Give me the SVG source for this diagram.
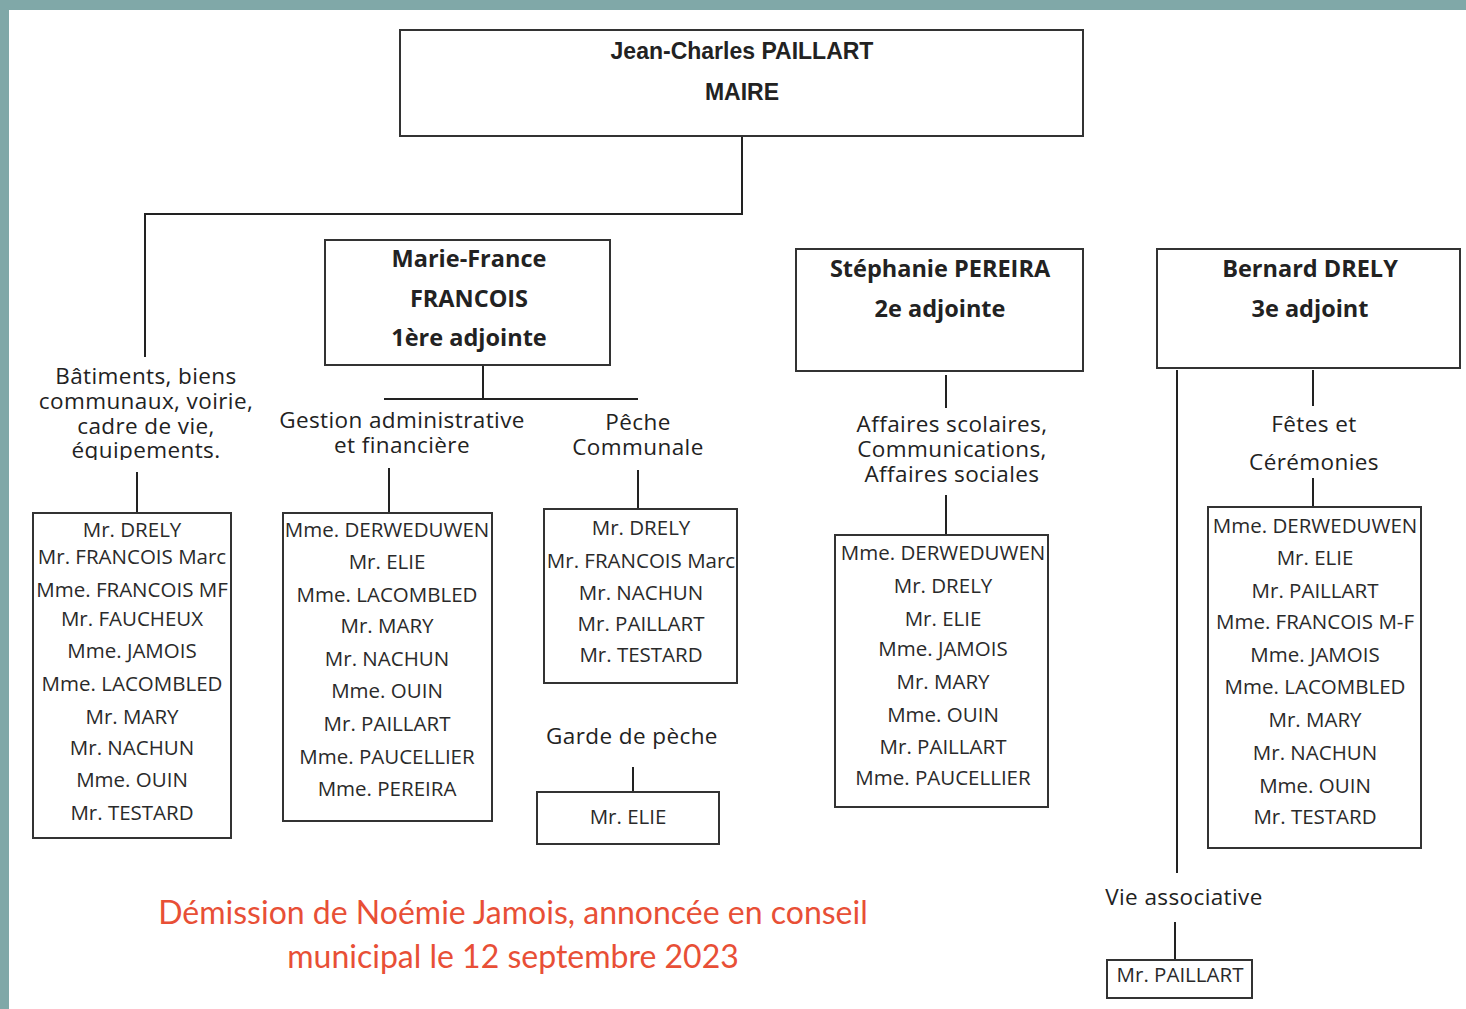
<svg xmlns="http://www.w3.org/2000/svg" width="1466" height="1009" viewBox="0 0 1466 1009">
<style>
.box{fill:#fff;stroke:#333;stroke-width:2}
.ln{stroke:#222;stroke-width:2;fill:none}
.nm{font-family:"Open Sans","Liberation Sans",sans-serif;font-size:20.5px;fill:#2a2a2a;text-anchor:middle}
.hd{font-family:"Open Sans","Liberation Sans",sans-serif;font-size:22.5px;letter-spacing:0.4px;fill:#222;text-anchor:middle}
.ti{font-family:"Open Sans","Liberation Sans",sans-serif;font-size:23.5px;font-weight:bold;fill:#222;text-anchor:middle}
.mt{font-family:"Liberation Sans Narrow","Liberation Sans",sans-serif;font-size:23px;font-weight:bold;fill:#222;text-anchor:middle}
.red{font-family:Lato,"Liberation Sans",sans-serif;font-size:32px;fill:#e84f36;text-anchor:middle}
</style>
<defs>
<clipPath id="clipBat"><rect x="20" y="355" width="260" height="105"/></clipPath>
</defs>
<rect x="0" y="0" width="1466" height="1009" fill="#fff"/>
<rect x="0" y="0" width="1466" height="10" fill="#80a8a8"/>
<rect x="0" y="0" width="9" height="1009" fill="#80a8a8"/>

<g id="connectors">
<path class="ln" d="M742 136V214H145V357"/>
<path class="ln" d="M483 365V399M384 399H638"/>
<path class="ln" d="M389 468V513"/>
<path class="ln" d="M638 470V509"/>
<path class="ln" d="M633 767V792"/>
<path class="ln" d="M137 472V513"/>
<path class="ln" d="M154 605V667" style="stroke-width:1.5"/>
<path class="ln" d="M946 375V408M946 495V535"/>
<path class="ln" d="M1313 370V406M1313 478V507"/>
<path class="ln" d="M1177 370V873"/>
<path class="ln" d="M1175 922V960"/>
</g>

<g id="maire">
<rect class="box" x="400" y="30" width="683" height="106"/>
<text class="mt" x="742" y="59">Jean-Charles PAILLART</text>
<text class="mt" x="742" y="100">MAIRE</text>
</g>

<g id="mf">
<rect class="box" x="325" y="240" width="285" height="125"/>
<text class="ti" x="469" y="267">Marie-France</text>
<text class="ti" x="469" y="307">FRANCOIS</text>
<text class="ti" x="469" y="346">1ère adjointe</text>
</g>

<g id="sp">
<rect class="box" x="796" y="249" width="287" height="122"/>
<text class="ti" x="940" y="277">Stéphanie PEREIRA</text>
<text class="ti" x="940" y="317">2e adjointe</text>
</g>

<g id="bd">
<rect class="box" x="1157" y="249" width="303" height="119"/>
<text class="ti" x="1310" y="277">Bernard DRELY</text>
<text class="ti" x="1310" y="317">3e adjoint</text>
</g>

<g id="batiments-label" clip-path="url(#clipBat)">
<text class="hd" x="146" y="384">Bâtiments, biens</text>
<text class="hd" x="146" y="409">communaux, voirie,</text>
<text class="hd" x="146" y="434">cadre de vie,</text>
<text class="hd" x="146" y="458">équipements.</text>
</g>

<g id="batiments">
<rect class="box" x="33" y="513" width="198" height="325"/>
<text class="nm" x="132" y="537">Mr. DRELY</text>
<text class="nm" x="132" y="564">Mr. FRANCOIS Marc</text>
<text class="nm" x="132" y="597">Mme. FRANCOIS MF</text>
<text class="nm" x="132" y="626">Mr. FAUCHEUX</text>
<text class="nm" x="132" y="658">Mme. JAMOIS</text>
<text class="nm" x="132" y="691">Mme. LACOMBLED</text>
<text class="nm" x="132" y="724">Mr. MARY</text>
<text class="nm" x="132" y="755">Mr. NACHUN</text>
<text class="nm" x="132" y="787">Mme. OUIN</text>
<text class="nm" x="132" y="820">Mr. TESTARD</text>
</g>

<g id="gestion-label">
<text class="hd" x="402" y="428">Gestion administrative</text>
<text class="hd" x="402" y="453">et financière</text>
</g>

<g id="gestion">
<rect class="box" x="283" y="513" width="209" height="308"/>
<text class="nm" x="387" y="537">Mme. DERWEDUWEN</text>
<text class="nm" x="387" y="569">Mr. ELIE</text>
<text class="nm" x="387" y="602">Mme. LACOMBLED</text>
<text class="nm" x="387" y="633">Mr. MARY</text>
<text class="nm" x="387" y="666">Mr. NACHUN</text>
<text class="nm" x="387" y="698">Mme. OUIN</text>
<text class="nm" x="387" y="731">Mr. PAILLART</text>
<text class="nm" x="387" y="764">Mme. PAUCELLIER</text>
<text class="nm" x="387" y="796">Mme. PEREIRA</text>
</g>

<g id="peche-label">
<text class="hd" x="638" y="430">Pêche</text>
<text class="hd" x="638" y="455">Communale</text>
</g>

<g id="peche">
<rect class="box" x="544" y="509" width="193" height="174"/>
<text class="nm" x="641" y="535">Mr. DRELY</text>
<text class="nm" x="641" y="568">Mr. FRANCOIS Marc</text>
<text class="nm" x="641" y="600">Mr. NACHUN</text>
<text class="nm" x="641" y="631">Mr. PAILLART</text>
<text class="nm" x="641" y="662">Mr. TESTARD</text>
</g>

<g id="garde-label">
<text class="hd" x="632" y="744">Garde de pèche</text>
</g>

<g id="garde">
<rect class="box" x="537" y="792" width="182" height="52"/>
<text class="nm" x="628" y="824">Mr. ELIE</text>
</g>

<g id="affaires-label">
<text class="hd" x="952" y="432">Affaires scolaires,</text>
<text class="hd" x="952" y="457">Communications,</text>
<text class="hd" x="952" y="482">Affaires sociales</text>
</g>

<g id="affaires">
<rect class="box" x="835" y="535" width="213" height="272"/>
<text class="nm" x="943" y="560">Mme. DERWEDUWEN</text>
<text class="nm" x="943" y="593">Mr. DRELY</text>
<text class="nm" x="943" y="626">Mr. ELIE</text>
<text class="nm" x="943" y="656">Mme. JAMOIS</text>
<text class="nm" x="943" y="689">Mr. MARY</text>
<text class="nm" x="943" y="722">Mme. OUIN</text>
<text class="nm" x="943" y="754">Mr. PAILLART</text>
<text class="nm" x="943" y="785">Mme. PAUCELLIER</text>
</g>

<g id="fetes-label">
<text class="hd" x="1314" y="432">Fêtes et</text>
<text class="hd" x="1314" y="470">Cérémonies</text>
</g>

<g id="fetes">
<rect class="box" x="1208" y="507" width="213" height="341"/>
<text class="nm" x="1315" y="533">Mme. DERWEDUWEN</text>
<text class="nm" x="1315" y="565">Mr. ELIE</text>
<text class="nm" x="1315" y="598">Mr. PAILLART</text>
<text class="nm" x="1315" y="629">Mme. FRANCOIS M-F</text>
<text class="nm" x="1315" y="662">Mme. JAMOIS</text>
<text class="nm" x="1315" y="694">Mme. LACOMBLED</text>
<text class="nm" x="1315" y="727">Mr. MARY</text>
<text class="nm" x="1315" y="760">Mr. NACHUN</text>
<text class="nm" x="1315" y="793">Mme. OUIN</text>
<text class="nm" x="1315" y="824">Mr. TESTARD</text>
</g>

<g id="vie-label">
<text class="hd" x="1184" y="905">Vie associative</text>
</g>

<g id="vie">
<rect class="box" x="1107" y="960" width="145" height="38"/>
<text class="nm" x="1180" y="982">Mr. PAILLART</text>
</g>

<g id="note">
<text class="red" x="513" y="924">Démission de Noémie Jamois, annoncée en conseil</text>
<text class="red" x="513" y="968">municipal le 12 septembre 2023</text>
</g>
</svg>
